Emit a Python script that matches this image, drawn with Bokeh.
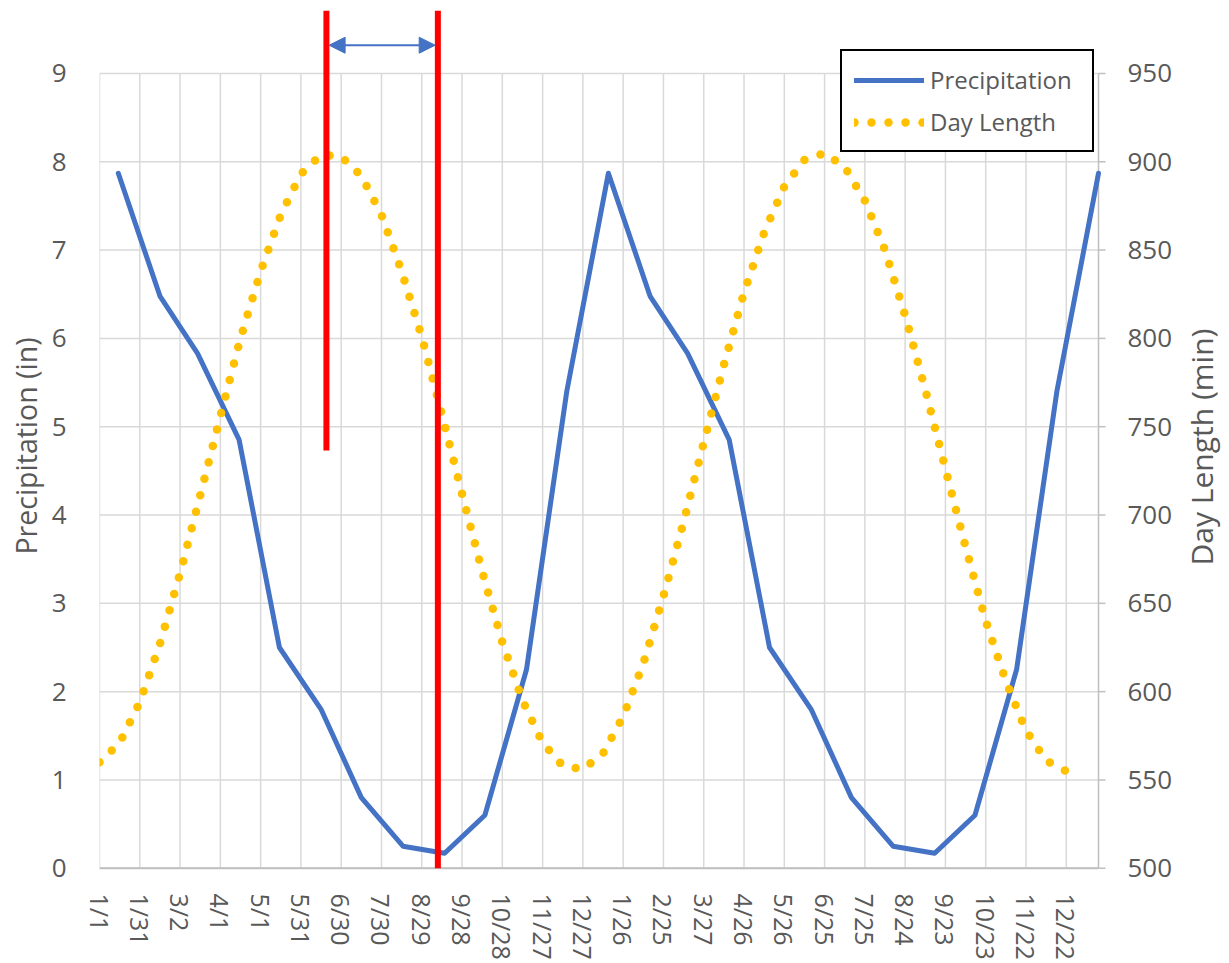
import math
from bokeh.plotting import figure
from bokeh.models import Range1d, FixedTicker, Legend, LegendItem, Arrow, NormalHead
from bokeh.core.properties import value
from bokeh.embed import file_html
from bokeh.resources import INLINE

# ---- data (x values are days since 1/1 of the first year) ----
tick_days = [0, 30, 60, 90, 120, 150, 180, 210, 240, 270, 300, 330, 360,
             390, 420, 450, 480, 510, 540, 570, 600, 630, 660, 690, 720]
tick_labels = ["1/1", "1/31", "3/2", "4/1", "5/1", "5/31", "6/30", "7/30", "8/29",
               "9/28", "10/28", "11/27", "12/27", "1/26", "2/25", "3/27", "4/26",
               "5/26", "6/25", "7/25", "8/24", "9/23", "10/23", "11/22", "12/22"]

precip_days = [14, 45, 73, 104, 134, 165, 195, 226, 257, 287, 318, 348,
               379, 410, 438, 469, 499, 530, 560, 591, 622, 652, 683, 713, 744]
precip_in = [7.87, 6.48, 5.83, 4.85, 2.50, 1.80, 0.80, 0.25, 0.17, 0.60, 2.25, 5.40,
             7.87, 6.48, 5.83, 4.85, 2.50, 1.80, 0.80, 0.25, 0.17, 0.60, 2.25, 5.40,
             7.87]

daylen_days = [0, 15, 30, 45, 60, 75, 90, 105, 120, 135, 150, 165, 180, 195, 210,
               225, 240, 255, 270, 285, 300, 315, 330, 345, 360, 375, 390, 405, 420,
               435, 450, 465, 480, 495, 510, 525, 540, 555, 570, 585, 600, 615, 630,
               645, 660, 675, 690, 705, 720, 729]
daylen_min = [560, 571, 594, 627, 667, 711, 756, 800, 838, 870, 893, 904, 903, 892, 870,
              838, 801, 757, 712, 668, 628, 595, 571, 558, 556, 565, 586, 616, 654,
              696, 741, 785, 826, 860, 886, 901, 905, 897, 878, 850, 813, 771, 726,
              682, 640, 606, 578, 561, 555, 558]

marker_days = [169, 252]
marker_bottom = [4.73, 0.0]
marker_top = [9.713, 9.713]
arrow_days = [171, 250]
arrow_level = 9.32

y_ticks = [0, 1, 2, 3, 4, 5, 6, 7, 8, 9]
y2_ticks = [500, 550, 600, 650, 700, 750, 800, 850, 900, 950]
y2_labels = ["500", "550", "600", "650", "700", "750", "800", "850", "900", "950"]

GRID = "#d9d9d9"
AXIS = "#bfbfbf"
TXT = "#595959"
FONT = "Open Sans"

X_LAST = 744                    # last day shown on the axis (right axis position)
X_END = X_LAST * 1130 / 999     # frame extends over the right-axis area
PX = 999 / X_LAST               # pixels per day
Y_MIN, Y_MAX = -0.15, 9.713     # frame reaches a little below 0 and above 9

p = figure(width=1229, height=963, x_range=Range1d(0, X_END), y_range=Range1d(Y_MIN, Y_MAX),
           output_backend="svg", toolbar_location=None,
           min_border_left=99, min_border_right=0, min_border_top=10, min_border_bottom=82)
p.outline_line_color = None
p.background_fill_color = "white"
p.border_fill_color = "white"
p.xgrid.visible = False
p.ygrid.visible = False

# bottom axis (labels only; axis line drawn below)
xa = p.xaxis[0]
xa.ticker = FixedTicker(ticks=tick_days)
xa.major_label_overrides = {d: l for d, l in zip(tick_days, tick_labels)}
xa.major_label_orientation = "vertical"
xa.major_tick_line_color = None
xa.minor_tick_line_color = None
xa.axis_line_color = None
xa.major_label_text_font = FONT
xa.major_label_text_font_size = "25px"
xa.major_label_text_color = TXT
xa.major_label_standoff = 6

# left axis
ya = p.yaxis[0]
ya.ticker = FixedTicker(ticks=y_ticks)
ya.axis_line_color = None
ya.major_tick_line_color = None
ya.minor_tick_line_color = None
ya.major_label_text_font = FONT
ya.major_label_text_font_size = "26px"
ya.major_label_text_color = TXT
ya.major_label_standoff = 27
ya.axis_label = "Precipitation (in)"
ya.axis_label_text_font = FONT
ya.axis_label_text_font_size = "28.5px"
ya.axis_label_text_font_style = "normal"
ya.axis_label_text_color = TXT
ya.axis_label_standoff = 4

# secondary (day length) scale
p.extra_y_ranges = {"dl": Range1d(500 + Y_MIN * 50, 500 + Y_MAX * 50)}

# gridlines
p.segment(x0=0, y0=y_ticks, x1=X_LAST, y1=y_ticks, line_color=GRID, line_width=1.5)
p.segment(x0=tick_days, y0=0, x1=tick_days, y1=9, line_color=GRID, line_width=1.5)

# axis lines
p.segment(x0=[0], y0=[0], x1=[X_LAST], y1=[0], line_color=AXIS, line_width=2)
p.segment(x0=[X_LAST], y0=[0], x1=[X_LAST], y1=[9], line_color=AXIS, line_width=1.5)

# secondary axis: outward ticks, labels and title
p.segment(x0=X_LAST, y0=y2_ticks, x1=X_LAST + 7 / PX, y1=y2_ticks, y_range_name="dl",
          line_color=AXIS, line_width=1.5)
p.text(x=X_LAST + 29 / PX, y=y2_ticks, text=y2_labels, y_range_name="dl",
       text_align="left", text_baseline="middle", text_font=value(FONT),
       text_font_size=value("26px"), text_color=TXT)
p.text(x=[X_LAST + 103 / PX], y=[4.77], text=["Day Length (min)"], angle=math.pi / 2,
       text_align="center", text_baseline="middle", text_font=value(FONT),
       text_font_size=value("30px"), text_color=TXT)

# series
pl = p.line(precip_days, precip_in, line_color="#4472C4", line_width=5,
            line_join="round", line_cap="round")
dl = p.line(daylen_days, daylen_min, y_range_name="dl", line_color="#FFC000",
            line_width=8.5, line_dash="0 17", line_cap="round")

# red markers and arrow
p.segment(x0=marker_days, y0=marker_bottom, x1=marker_days, y1=marker_top,
          line_color="#FF0000", line_width=6)
p.add_layout(Arrow(x_start=arrow_days[0], y_start=arrow_level, x_end=arrow_days[1], y_end=arrow_level,
                   line_color="#4472C4", line_width=2,
                   start=NormalHead(size=16, fill_color="#4472C4", line_color="#4472C4"),
                   end=NormalHead(size=16, fill_color="#4472C4", line_color="#4472C4")))

legend = Legend(items=[LegendItem(label="Precipitation", renderers=[pl]),
                       LegendItem(label="Day Length", renderers=[dl])],
                location=(741, 729), margin=0, padding=12, spacing=9,
                glyph_width=70, glyph_height=30, label_height=30, label_width=150,
                label_standoff=6,
                label_text_font=FONT, label_text_font_size="24px", label_text_color=TXT,
                border_line_color="black", border_line_width=2, border_line_alpha=1,
                background_fill_color="white", background_fill_alpha=1)
p.add_layout(legend)

open("out.html", "w").write(file_html(p, INLINE))
